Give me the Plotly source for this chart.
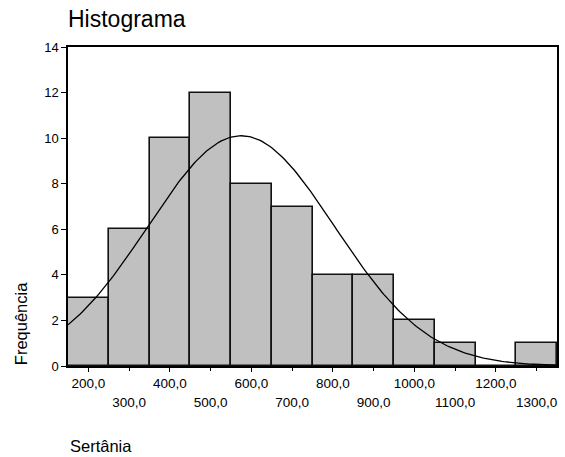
import numpy as np
import plotly.graph_objects as go

# Data
bin_centers = [200, 300, 400, 500, 600, 700, 800, 900, 1000, 1100, 1200, 1300]
frequencies = [3, 6, 10, 12, 8, 7, 4, 4, 2, 1, 0, 1]
bin_width = 100
upper_ticks = [200, 400, 600, 800, 1000, 1200]
lower_ticks = [300, 500, 700, 900, 1100, 1300]
upper_labels = ["200,0", "400,0", "600,0", "800,0", "1000,0", "1200,0"]
lower_labels = ["300,0", "500,0", "700,0", "900,0", "1100,0", "1300,0"]
y_ticks = [0, 2, 4, 6, 8, 10, 12, 14]

# Fitted normal curve parameters
curve_mean = 575.0
curve_sd = 229.0
n_total = sum(frequencies)

xs = np.linspace(150, 1350, 241)
ys = n_total * bin_width / (curve_sd * np.sqrt(2 * np.pi)) * np.exp(-0.5 * ((xs - curve_mean) / curve_sd) ** 2)

FONT = "Liberation Sans, Arial, sans-serif"

fig = go.Figure()
fig.add_trace(go.Bar(
    x=bin_centers, y=frequencies, width=[bin_width] * len(bin_centers),
    marker=dict(color="#c0c0c0", line=dict(color="#111111", width=1.6)),
    showlegend=False, hoverinfo="x+y",
))
fig.add_trace(go.Scatter(
    x=xs, y=ys, mode="lines", line=dict(color="black", width=1.3),
    showlegend=False, hoverinfo="skip",
))

fig.update_layout(
    width=565, height=457,
    margin=dict(l=68, r=6, t=47, b=91),
    paper_bgcolor="white", plot_bgcolor="white",
    bargap=0,
    font=dict(family=FONT, color="black", size=12),
    title=dict(text="Histograma", x=0, xref="paper", xanchor="left",
               y=(457 - 19) / 457, yanchor="middle",
               font=dict(family=FONT, size=23, color="black")),
    xaxis=dict(range=[150, 1350], showgrid=False, zeroline=False,
               showline=True, linecolor="black", linewidth=1.5, mirror=True,
               tickmode="array", tickvals=upper_ticks, ticktext=upper_labels,
               ticks="outside", ticklen=4, tickcolor="black",
               tickfont=dict(family=FONT, size=13.5, color="black")),
    xaxis2=dict(range=[150, 1350], overlaying="x", anchor="y", side="bottom",
                showgrid=False, zeroline=False, showline=False,
                tickmode="array", tickvals=lower_ticks, ticktext=lower_labels,
                ticks="outside", ticklen=4, tickcolor="black",
                ticklabelstandoff=20,
                tickfont=dict(family=FONT, size=13.5, color="black")),
    yaxis=dict(range=[0, 14], showgrid=False, zeroline=False,
               showline=True, linecolor="black", linewidth=1.5, mirror=True,
               tickmode="array", tickvals=y_ticks,
               ticks="outside", ticklen=5, tickcolor="black",
               tickfont=dict(family=FONT, size=13, color="black")),
    annotations=[
        dict(text="Frequência", xref="paper", yref="paper",
             x=(21 - 68) / 491, y=(366 - 324) / 319, textangle=-90,
             xanchor="center", yanchor="middle", showarrow=False,
             font=dict(family=FONT, size=16.5, color="black")),
        dict(text="Sertânia", xref="paper", yref="paper",
             x=0, y=(366 - 446) / 319, xanchor="left", yanchor="middle",
             showarrow=False, font=dict(family=FONT, size=16.5, color="black")),
    ],
)
# invisible trace to activate the second (lower-row label) x axis
fig.add_trace(go.Scatter(x=[150], y=[0], xaxis="x2", mode="markers",
                         marker=dict(opacity=0), showlegend=False, hoverinfo="skip"))

fig.write_html("out.html")
